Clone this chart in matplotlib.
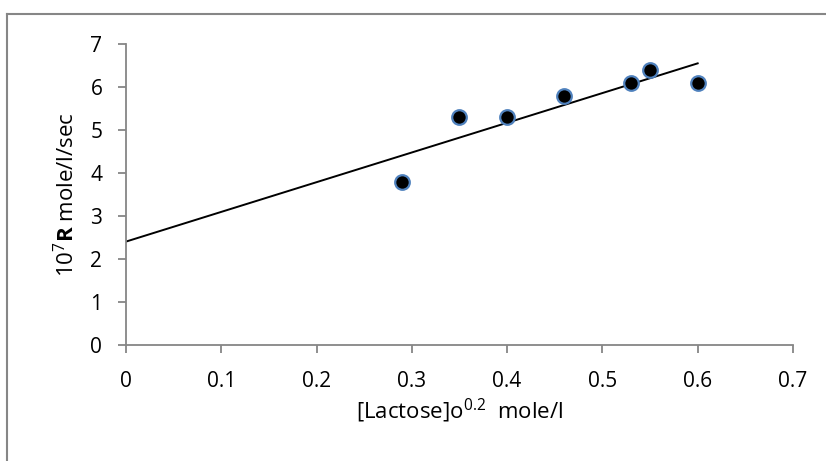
import numpy as np
import matplotlib
matplotlib.use('Agg')
import matplotlib.pyplot as plt
from matplotlib.lines import Line2D

# lactose concentration (raised to 0.2) and measured rate
lactose = [0.29, 0.35, 0.40, 0.46, 0.53, 0.55, 0.60]
rate = [3.8, 5.3, 5.3, 5.8, 6.1, 6.4, 6.1]
x_ticks = [0, 0.1, 0.2, 0.3, 0.4, 0.5, 0.6, 0.7]
y_ticks = [0, 1, 2, 3, 4, 5, 6, 7]

plt.rcParams['font.family'] = ['Open Sans', 'DejaVu Sans']
plt.rcParams['mathtext.fontset'] = 'custom'
plt.rcParams['mathtext.rm'] = 'Open Sans'
plt.rcParams['mathtext.bf'] = 'Open Sans:bold'

fig = plt.figure(figsize=(8.26, 4.61), dpi=100)
ax = fig.add_axes([0.1525, 0.2516, 0.8075, 0.653])

# least squares trend line from x = 0 up to the last point
slope, intercept = np.polyfit(lactose, rate, 1)
xs = np.array([0, max(lactose)])
ax.plot(xs, slope * xs + intercept, color='black', linewidth=1.4, zorder=2)

ax.plot(lactose, rate, 'o', markersize=10.5, markerfacecolor='black',
        markeredgecolor='#4f81bd', markeredgewidth=1.6, zorder=3)

ax.set_xlim(0, 0.7)
ax.set_ylim(0, 7)
ax.set_xticks(x_ticks)
ax.set_xticklabels(['0' if v == 0 else f'{v:g}' for v in x_ticks])
ax.set_yticks(y_ticks)

grey = '#868686'
for side in ['top', 'right']:
    ax.spines[side].set_visible(False)
for side in ['left', 'bottom']:
    ax.spines[side].set_color(grey)
    ax.spines[side].set_linewidth(1.3)
ax.tick_params(axis='both', direction='out', length=6, width=1.3, color=grey,
               labelsize=15, labelcolor='black')
ax.tick_params(axis='x', pad=13)
ax.tick_params(axis='y', pad=11)

ax.set_xlabel(r'[Lactose]o$^{0.2}$  mole/l', fontsize=16, labelpad=3)
ax.set_ylabel(r'10$^7$$\mathbf{R}$ mole/l/sec', fontsize=16, labelpad=8)

# chart area border (left and top edges)
fig.add_artist(Line2D([7.5 / 826, 7.5 / 826], [0, 1 - 14.5 / 461],
                      color=grey, linewidth=1.5))
fig.add_artist(Line2D([7.5 / 826, 1], [1 - 14.5 / 461, 1 - 14.5 / 461],
                      color=grey, linewidth=1.5))

fig.savefig('out.png', dpi=100)
